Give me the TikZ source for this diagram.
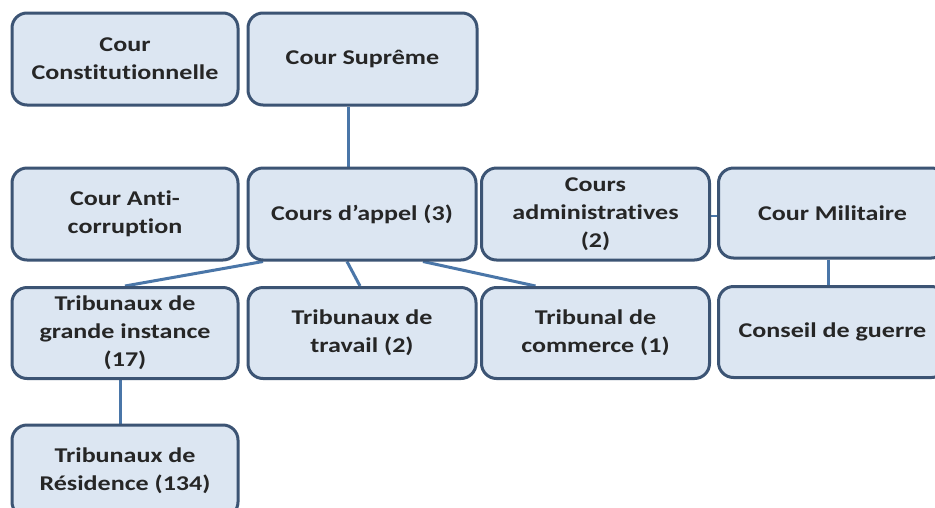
\documentclass[tikz,border=0pt]{standalone}
\usepackage{fontspec}
\setmainfont[FakeStretch=1.24, Ligatures={NoCommon}]{Carlito}
\usetikzlibrary{backgrounds}
\definecolor{boxfill}{HTML}{DCE6F2}
\definecolor{boxline}{HTML}{3C5474}
\definecolor{linkline}{HTML}{4A76A8}
\definecolor{txt}{HTML}{262626}
\tikzset{
  court/.style={draw=boxline, line width=3pt, fill=boxfill, rounded corners=15pt,
    minimum width=228pt, minimum height=92pt, inner sep=0pt, align=center,
    text=txt, font=\fontsize{21}{28}\selectfont\bfseries},
  link/.style={draw=linkline, line width=3pt},
}
\begin{document}
\begin{tikzpicture}[x=1pt, y=-1pt]
\clip (0,0) rectangle (935,507);
% top row
\node[court, minimum width=226pt] (cc)  at (125,59)   {Cour\\Constitutionnelle};
\node[court, minimum width=229pt] (cs)  at (362.5,59) {Cour Suprême};
% courts of second degree
\node[court, minimum width=226pt] (ac)  at (125,214)  {Cour Anti-\\corruption};
\node[court] (ca)  at (362,214)  {Cours d’appel (3)};
\node[court] (cad) at (595.5,214){Cours\\administratives\\(2)};
\node[court, minimum height=90pt] (cm) at (832.5,213) {Cour Militaire};
% first instance
\node[court, minimum width=226pt, minimum height=91pt] (tgi) at (125,333) {Tribunaux de\\grande instance\\(17)};
\node[court, minimum height=91pt] (tt) at (362,333)  {Tribunaux de\\travail (2)};
\node[court, minimum height=91pt] (tc) at (595.5,333){Tribunal de\\commerce (1)};
\node[court, minimum height=91pt] (cg) at (832.5,332){Conseil de guerre};
% lowest level
\node[court, minimum width=226pt] (tr) at (125,471) {Tribunaux de\\Résidence (134)};
% connectors, drawn beneath the boxes on a white ground
\begin{scope}[on background layer]
\fill[white] (0,0) rectangle (935,507);
\draw[link] ([xshift=-14pt]cs.south) -- ([xshift=-14pt]cs.south |- ca.north);
\draw[link] ([xshift=-99pt]ca.south) -- (tgi.north);
\draw[link] ([xshift=-15pt]ca.south) -- ([xshift=-2pt]tt.north);
\draw[link] ([xshift=61pt]ca.south) -- ([xshift=-60pt]tc.north);
\draw[link, line width=1.5pt] ([yshift=-2pt]cad.east) -- ([yshift=-2pt]cad.east -| cm.west);
\draw[link] ([xshift=-4pt]cm.south) -- ([xshift=-4pt]cm.south |- cg.north);
\draw[link] ([xshift=-5pt]tgi.south) -- ([xshift=-5pt]tgi.south |- tr.north);
\end{scope}
\end{tikzpicture}
\end{document}
